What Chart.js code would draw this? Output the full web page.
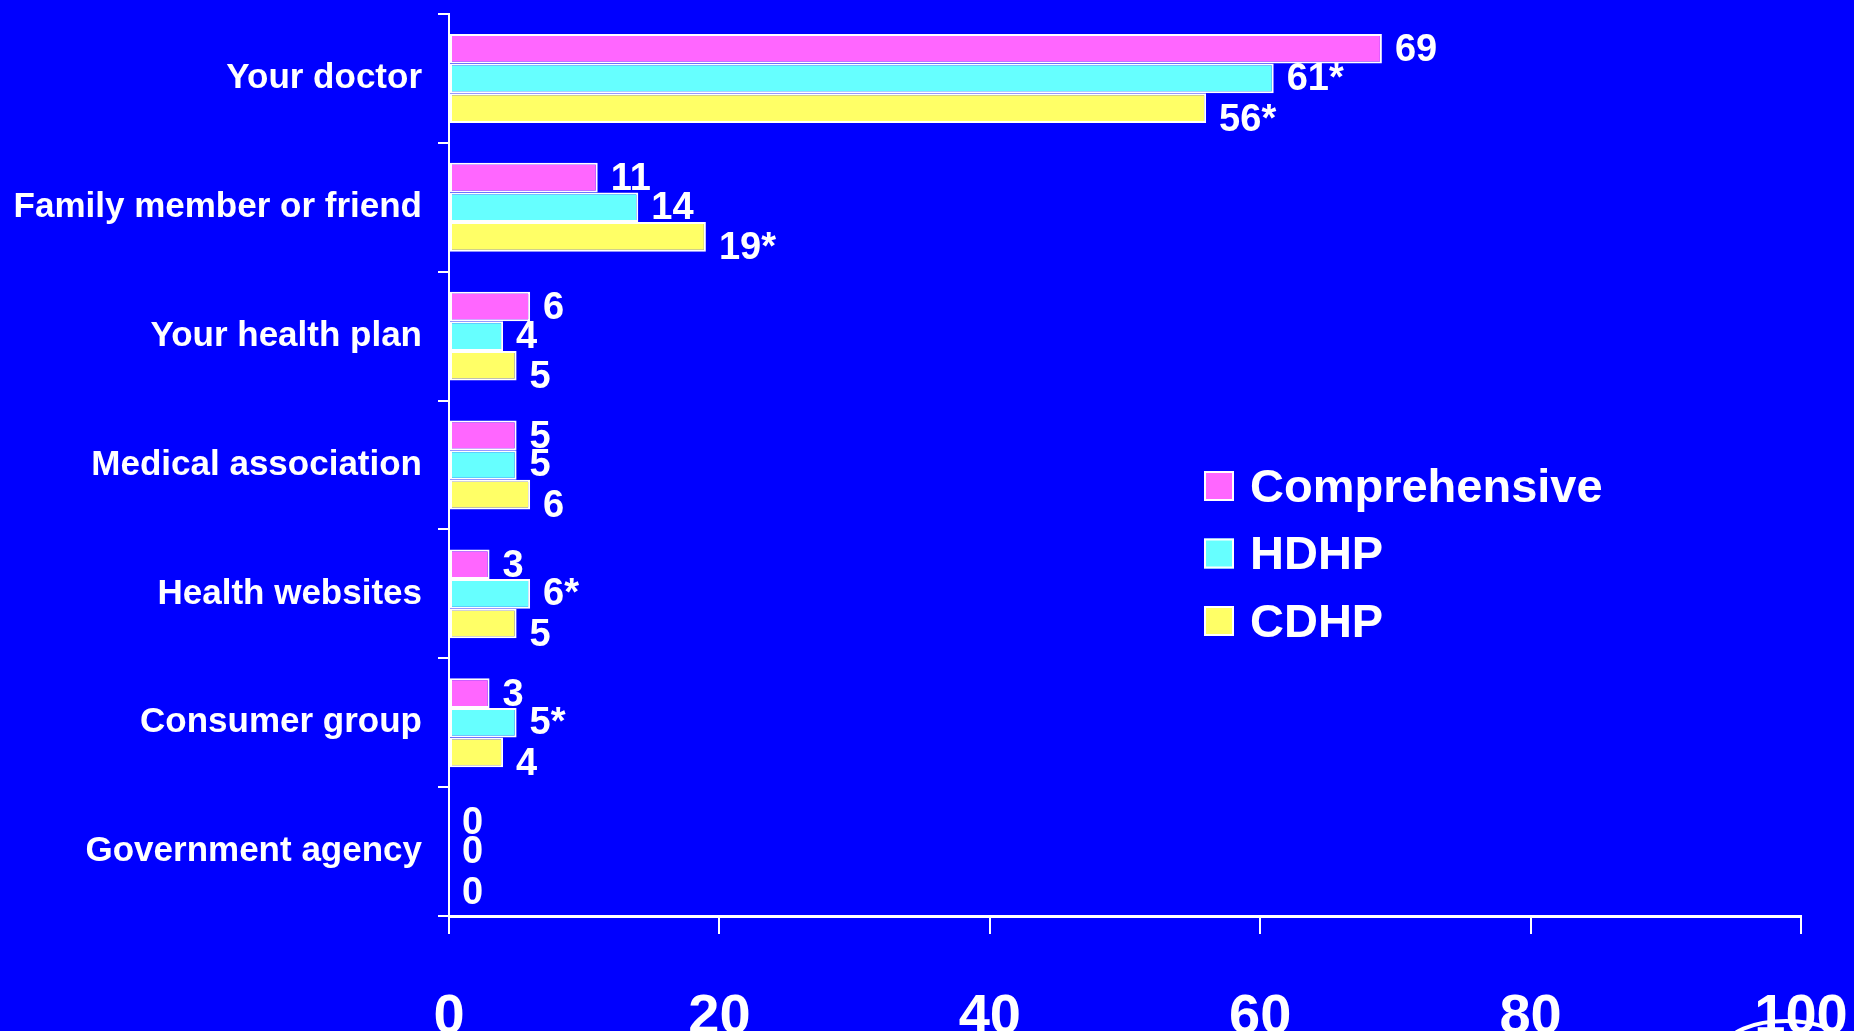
<!DOCTYPE html>
<html>
<head>
<meta charset="utf-8">
<title>Sources of information about doctors, by plan type</title>
<script src="https://cdn.jsdelivr.net/npm/chart.js@4/dist/chart.umd.min.js"></script>
<style>
  html, body { margin: 0; padding: 0; background: #0000FF; overflow: hidden; }
  canvas { display: block; }
</style>
</head>
<body>
<canvas id="chart" width="1854" height="1070"></canvas>
<script>
// ---- data ----
const categories = [
  "Your doctor",
  "Family member or friend",
  "Your health plan",
  "Medical association",
  "Health websites",
  "Consumer group",
  "Government agency"
];
const seriesNames = ["Comprehensive", "HDHP", "CDHP"];
const comprehensive = [69, 11, 6, 5, 3, 3, 0];
const hdhp          = [61, 14, 4, 5, 6, 5, 0];
const cdhp          = [56, 19, 5, 6, 5, 4, 0];
// * = significantly different from the comprehensive group
const comprehensiveSig = [false, false, false, false, false, false, false];
const hdhpSig          = [true,  false, false, false, true,  true,  false];
const cdhpSig          = [true,  true,  false, false, false, false, false];
const xTicks = [0, 20, 40, 60, 80, 100];

// ---- styling ----
const FONT = '"Liberation Sans", Arial, Helvetica, sans-serif';
const WHITE = '#FFFFFF';
const seriesColors = ['#FF66FF', '#66FFFF', '#FFFF66'];
const seriesValues = [comprehensive, hdhp, cdhp];
const seriesSig = [comprehensiveSig, hdhpSig, cdhpSig];
const labelShift = [2, 1, 12];   // vertical nudge of value labels per series

Chart.defaults.font.family = FONT;
Chart.defaults.color = WHITE;

// value labels to the right of each bar
const valueLabels = {
  id: 'valueLabels',
  afterDatasetsDraw(chart) {
    const ctx = chart.ctx;
    ctx.save();
    ctx.fillStyle = WHITE;
    ctx.font = 'bold 38px ' + FONT;
    ctx.textAlign = 'left';
    ctx.textBaseline = 'middle';
    chart.data.datasets.forEach((ds, di) => {
      const meta = chart.getDatasetMeta(di);
      meta.data.forEach((bar, i) => {
        const v = ds.data[i];
        const txt = String(v) + (seriesSig[di][i] ? '*' : '');
        ctx.fillText(txt, bar.x + 13, bar.y + labelShift[di]);
      });
    });
    ctx.restore();
  }
};

// legend block in the right half of the plot
const sideLegend = {
  id: 'sideLegend',
  afterDraw(chart) {
    const ctx = chart.ctx;
    const x0 = 1204, y0 = 486, rowGap = 67.5, box = 30;
    ctx.save();
    ctx.font = 'bold 47px ' + FONT;
    ctx.textAlign = 'left';
    ctx.textBaseline = 'middle';
    chart.data.datasets.forEach((ds, di) => {
      const cy = y0 + di * rowGap;
      ctx.fillStyle = ds.backgroundColor;
      ctx.fillRect(x0, cy - box / 2, box, box);
      ctx.strokeStyle = WHITE;
      ctx.lineWidth = 2;
      ctx.strokeRect(x0 + 1, cy - box / 2 + 1, box - 2, box - 2);
      ctx.fillStyle = WHITE;
      ctx.fillText(ds.label, x0 + box + 16, cy + 3);
    });
    // white ring of the slide emblem in the bottom-right corner
    ctx.beginPath();
    ctx.ellipse(1786, 1047, 60, 26, 0, 0, Math.PI * 2);
    ctx.lineWidth = 4;
    ctx.strokeStyle = WHITE;
    ctx.stroke();
    ctx.restore();
  }
};

new Chart(document.getElementById('chart'), {
  type: 'bar',
  data: {
    labels: categories,
    datasets: seriesNames.map((name, i) => ({
      label: name,
      data: seriesValues[i],
      backgroundColor: seriesColors[i],
      borderColor: WHITE,
      borderWidth: 2,
      borderSkipped: false,
      categoryPercentage: 0.69,
      barPercentage: 1.0
    }))
  },
  options: {
    indexAxis: 'y',
    responsive: false,
    animation: false,
    layout: { padding: { top: 14, right: 53, left: 0, bottom: 0 } },
    plugins: {
      legend: { display: false },
      title: { display: false },
      tooltip: { enabled: false }
    },
    scales: {
      x: {
        type: 'linear',
        min: 0,
        max: 100,
        afterBuildTicks: s => { s.ticks = xTicks.map(v => ({ value: v })); },
        afterFit: s => { s.height = 154; s.paddingLeft = 0; s.paddingRight = 0; },
        grid: {
          drawOnChartArea: false,
          drawTicks: true,
          tickLength: 18,
          color: WHITE,
          lineWidth: 2
        },
        border: { display: true, color: WHITE, width: 3 },
        ticks: {
          color: WHITE,
          padding: 50,
          font: { size: 56, weight: 'bold' }
        }
      },
      y: {
        type: 'category',
        afterFit: s => { s.width = 449; s.paddingTop = 0; s.paddingBottom = 0; },
        grid: {
          offset: true,
          drawOnChartArea: false,
          drawTicks: true,
          tickLength: 11,
          color: WHITE,
          lineWidth: 2
        },
        border: { display: true, color: WHITE, width: 2 },
        ticks: {
          color: WHITE,
          padding: 16,
          font: { size: 35, weight: 'bold' }
        }
      }
    }
  },
  plugins: [valueLabels, sideLegend]
});
</script>
</body>
</html>
